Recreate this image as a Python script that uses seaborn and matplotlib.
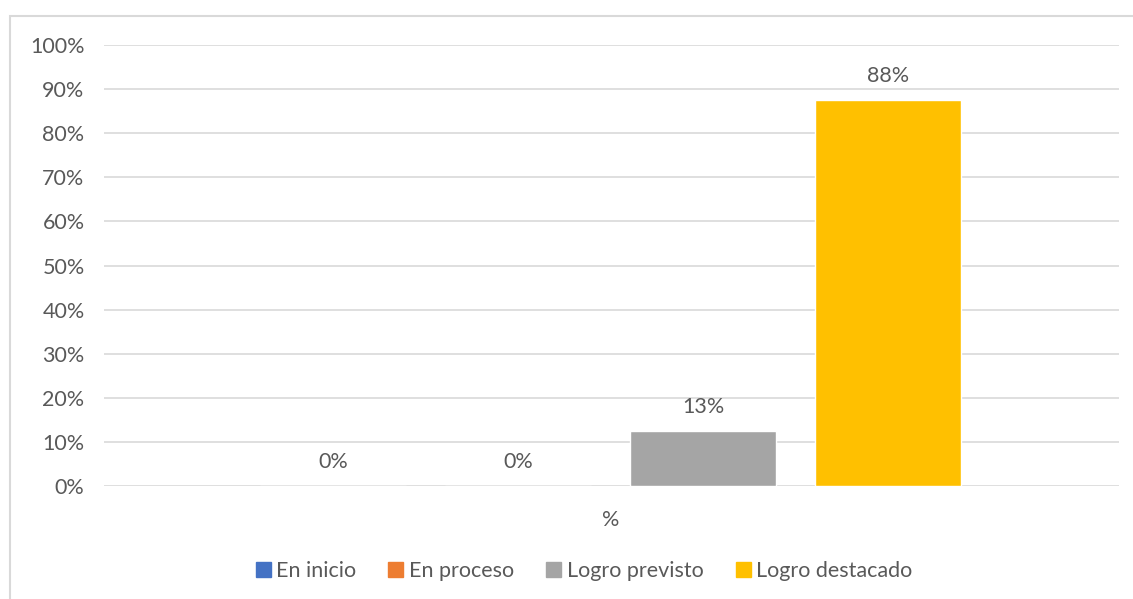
import pandas as pd
import matplotlib.pyplot as plt
import matplotlib.patches as mpatches
import seaborn as sns

# data
categories = ['%']
series = ['En inicio', 'En proceso', 'Logro previsto', 'Logro destacado']
values = [0.0, 0.0, 0.125, 0.875]
colors = ['#4472C4', '#ED7D31', '#A5A5A5', '#FFC000']
yticks = [0, 0.1, 0.2, 0.3, 0.4, 0.5, 0.6, 0.7, 0.8, 0.9, 1.0]

txt = '#595959'
grid = '#D9D9D9'
fs = 15.5

sns.set_style('white')
plt.rcParams['font.family'] = ['Lato', 'DejaVu Sans']
plt.rcParams['font.size'] = fs

df = pd.DataFrame({'cat': categories * len(series), 'serie': series, 'val': values})

fig = plt.figure(figsize=(11.33, 5.99), dpi=100)
ax = fig.add_axes([104/1133, 1-486/599, (1119-104)/1133, (486-45)/599])

sns.barplot(data=df, x='cat', y='val', hue='serie', palette=colors,
            gap=0.21, ax=ax, legend=False, saturation=1)

ax.set_ylim(0, 1)
ax.set_xlim(-0.548, 0.55)
ax.set_yticks(yticks)
ax.set_yticklabels([f'{int(round(t*100))}%' for t in yticks], color=txt, fontsize=fs)
ax.set_xticks([0])
ax.set_xticklabels(categories, color=txt, fontsize=fs)
ax.tick_params(axis='both', length=0)
ax.tick_params(axis='x', pad=17)
ax.tick_params(axis='y', pad=14)
ax.set_xlabel('')
ax.set_ylabel('')
ax.grid(axis='y', color=grid, linewidth=1.2)
ax.set_axisbelow(True)
for s in ax.spines.values():
    s.set_visible(False)

for cont in ax.containers:
    for bar in cont:
        h = bar.get_height()
        ax.annotate(f'{int(h*100+0.5)}%', (bar.get_x()+bar.get_width()/2, h),
                    xytext=(0, 10), textcoords='offset points',
                    ha='center', va='bottom', color=txt, fontsize=fs)

handles = [mpatches.Patch(color=c, label=s) for s, c in zip(series, colors)]
fig.legend(handles=handles, loc='center', bbox_to_anchor=(584/1133, 1-571/599),
           ncol=4, frameon=False, fontsize=fs, labelcolor=txt,
           handlelength=0.7, handleheight=0.7, handletextpad=0.25, columnspacing=1.5)

# chart border (cut off at right and bottom)
fig.patches.append(mpatches.Rectangle((10/1133, -0.1), 1.2, 1-16/599+0.1,
                                      transform=fig.transFigure, fill=False,
                                      edgecolor=grid, linewidth=1.5))

fig.savefig('out.png', dpi=100)
